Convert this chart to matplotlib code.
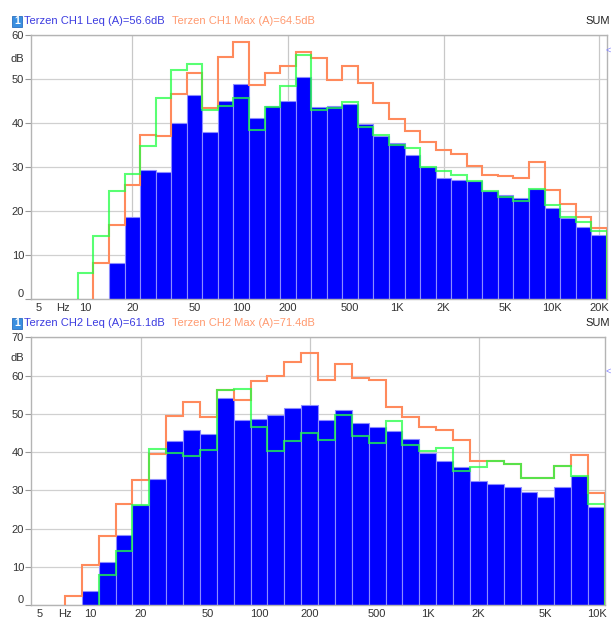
import numpy as np
import matplotlib
matplotlib.use('Agg')
import matplotlib.pyplot as plt
from matplotlib.patches import Rectangle

plt.rcParams['font.family'] = ['Liberation Sans', 'DejaVu Sans']

# ---------------- data ----------------
bands = [5, 6.3, 8, 10, 12.5, 16, 20, 25, 31.5, 40, 50, 63, 80, 100, 125, 160,
         200, 250, 315, 400, 500, 630, 800, 1000, 1250, 1600, 2000, 2500, 3150,
         4000, 5000, 6300, 8000, 10000, 12500, 16000, 20000]

# Channel 1 (top)
ch1_leq_start = 16
ch1_leq = [8.0, 18.6, 29.3, 28.9, 40.1, 46.4, 38.0, 45.0, 48.9, 41.1, 43.9, 45.0, 50.6,
           43.6, 43.9, 44.4, 39.9, 37.1, 35.5, 32.8, 30.0, 27.5, 27.1, 26.7, 24.6,
           23.7, 23.0, 25.0, 20.7, 18.3, 16.4, 14.5]
ch1_max_start = 12.5
ch1_max = [8.0, 16.7, 25.9, 37.3, 37.1, 46.7, 51.3, 43.4, 55.0, 58.5, 48.7, 51.4, 52.9, 56.1,
           54.9, 49.8, 53.0, 49.2, 44.5, 41.0, 38.1, 35.7, 33.8, 33.0, 30.3, 28.2,
           27.9, 27.5, 31.1, 24.7, 21.6, 18.6, 16.1]
ch1_grn_start = 10
ch1_grn = [5.8, 14.2, 24.5, 28.3, 34.7, 45.6, 52.2, 53.4, 42.9, 44.0, 45.6, 38.5, 43.6, 48.5, 55.5,
           42.9, 43.4, 44.8, 39.2, 37.3, 35.1, 34.3, 29.9, 29.0, 28.1, 26.9, 24.5,
           23.1, 22.2, 25.0, 21.4, 18.6, 17.5, 15.4]
ch1_total_leq = 56.6
ch1_total_max = 64.5

# Channel 2 (bottom)
ch2_leq_start = 10
ch2_leq = [3.8, 11.4, 18.4, 26.1, 33.0, 42.9, 45.7, 44.7, 54.1, 48.5, 48.7, 49.6, 51.5, 52.4,
           48.3, 50.9, 47.6, 46.6, 45.6, 43.5, 39.8, 37.6, 36.1, 32.5, 31.6, 30.8,
           29.6, 28.2, 30.8, 33.7, 25.6]
ch2_max_start = 8
ch2_max = [2.5, 10.5, 18.0, 26.5, 32.7, 39.5, 49.5, 53.1, 49.3, 56.3, 53.5, 58.7, 60.0, 63.6, 65.9,
           58.8, 62.9, 59.5, 58.8, 51.7, 49.2, 46.6, 45.7, 43.1, 37.8, 37.8, 37.0,
           33.2, 33.2, 36.3, 39.2, 29.3]
ch2_grn_start = 12.5
ch2_grn = [7.9, 14.3, 26.2, 40.9, 39.8, 39.1, 40.5, 56.3, 56.6, 46.6, 40.2, 43.0, 44.9,
           43.2, 49.8, 44.3, 42.4, 48.2, 41.8, 40.4, 41.1, 35.2, 36.0, 37.8, 37.0,
           33.2, 33.2, 36.3, 33.7, 26.4]
ch2_total_leq = 61.1
ch2_total_max = 71.4

xtick_vals = [5, 7.1, 10, 20, 50, 100, 200, 500, 1000, 2000, 5000, 10000, 20000]
xtick_labels = ['5', 'Hz', '10', '20', '50', '100', '200', '500', '1K', '2K', '5K', '10K', '20K']
grid_x = [20, 200, 2000, 20000]

# ---------------- helpers ----------------
def centers(start, n):
    i = bands.index(start)
    f = np.array(bands[i:i + n], dtype=float)
    return 10 ** (np.round(10 * np.log10(f)) / 10)

def edges_of(c):
    lo = c * 10 ** -0.05
    hi = c * 10 ** 0.05
    return np.append(lo, hi[-1])

BLUE = '#0000ff'
ORANGE = '#ff8a5c'
GREEN = '#22ff44'

W, H = 611, 619
fig = plt.figure(figsize=(6.11, 6.19), dpi=100)

def panel(ax, leq_s, leq, max_s, mx, grn_s, grn, ymax, xmax, total_leq):
    c = centers(leq_s, len(leq))
    lo = c * 10 ** -0.05
    w = c * 10 ** 0.05 - lo
    ax.bar(lo, leq, width=w, align='edge', color=BLUE, edgecolor='#8c8cff',
           linewidth=0.8, zorder=2)
    cm = centers(max_s, len(mx))
    ax.stairs(mx, edges_of(cm), baseline=0, fill=False, color=ORANGE, lw=1.5, zorder=3)
    cg = centers(grn_s, len(grn))
    ax.stairs(grn, edges_of(cg), baseline=0, fill=False, color=GREEN, lw=1.5,
              alpha=0.75, zorder=4)

    ax.set_xscale('log')
    ax.set_xlim(5 * 10 ** -0.05, xmax * 10 ** 0.05)
    ax.set_ylim(0, ymax)
    ax.minorticks_off()
    ticks = [t for t in xtick_vals if t <= xmax]
    labs = xtick_labels[:len(ticks)]
    ax.set_xticks(ticks)
    ax.set_xticklabels(labs)
    ax.tick_params(axis='x', length=0, pad=3, labelsize=8, colors='#333333')
    yt = list(range(0, ymax + 1, 10))
    ax.set_yticks(yt)
    ax.set_yticklabels([str(v) for v in yt])
    ax.tick_params(axis='y', length=4, width=0.8, pad=1, labelsize=8,
                   colors='#333333', color='#999999')
    ax.get_yticklabels()[0].set_verticalalignment('bottom')
    ax.grid(axis='y', color='#d0d0d0', lw=0.9, zorder=0)
    for g in grid_x:
        if g <= xmax:
            ax.axvline(g, color='#c8c8c8', lw=0.9, zorder=0)
    for s in ax.spines.values():
        s.set_color('#b4b4b4')
        s.set_linewidth(1.0)
    ax.text(-0.012, (ymax - 5.3) / ymax, 'dB', transform=ax.transAxes,
            ha='right', va='center', fontsize=8, color='#333333')
    # overall Leq level marker at the right edge
    ax.annotate('<', xy=(1.0 - 0.5 / W, total_leq),
                xycoords=(fig.transFigure, 'data'),
                ha='right', va='center', fontsize=6.5, color='#8080ff',
                annotation_clip=False)

def axrect(l, t, r, b):
    return [l / W, (H - b) / H, (r - l) / W, (b - t) / H]

ax1 = fig.add_axes(axrect(31, 35.3, 607, 298.6))
panel(ax1, ch1_leq_start, ch1_leq, ch1_max_start, ch1_max, ch1_grn_start, ch1_grn,
      60, 20000, ch1_total_leq)
ax2 = fig.add_axes(axrect(31, 337.3, 605, 605.3))
panel(ax2, ch2_leq_start, ch2_leq, ch2_max_start, ch2_max, ch2_grn_start, ch2_grn,
      70, 10000, ch2_total_leq)

def header(ypx, ch, leq_total, max_total):
    y = (H - ypx) / H
    fig.patches.append(Rectangle((12.3 / W, y - 5.3 / H), 9.6 / W, 10.6 / H,
                                 transform=fig.transFigure, facecolor='#3a8fe0',
                                 edgecolor='#2a6fc0', lw=0.6))
    fig.text(17.1 / W, y, '1', ha='center', va='center', fontsize=7.5,
             color='white', fontweight='bold')
    fig.text(24.5 / W, y, f'Terzen {ch} Leq (A)={leq_total}dB', ha='left', va='center',
             fontsize=8.0, color='#3c3ce0')
    fig.text(172 / W, y, f'Terzen {ch} Max (A)={max_total}dB', ha='left', va='center',
             fontsize=8.0, color='#ff9a70')
    fig.text(1.0 - 1.0 / W, y, 'SUM', ha='right', va='center', fontsize=8.0,
             color='#222222')

header(21.3, 'CH1', ch1_total_leq, ch1_total_max)
header(323.5, 'CH2', ch2_total_leq, ch2_total_max)

fig.savefig('out.png', dpi=100)
